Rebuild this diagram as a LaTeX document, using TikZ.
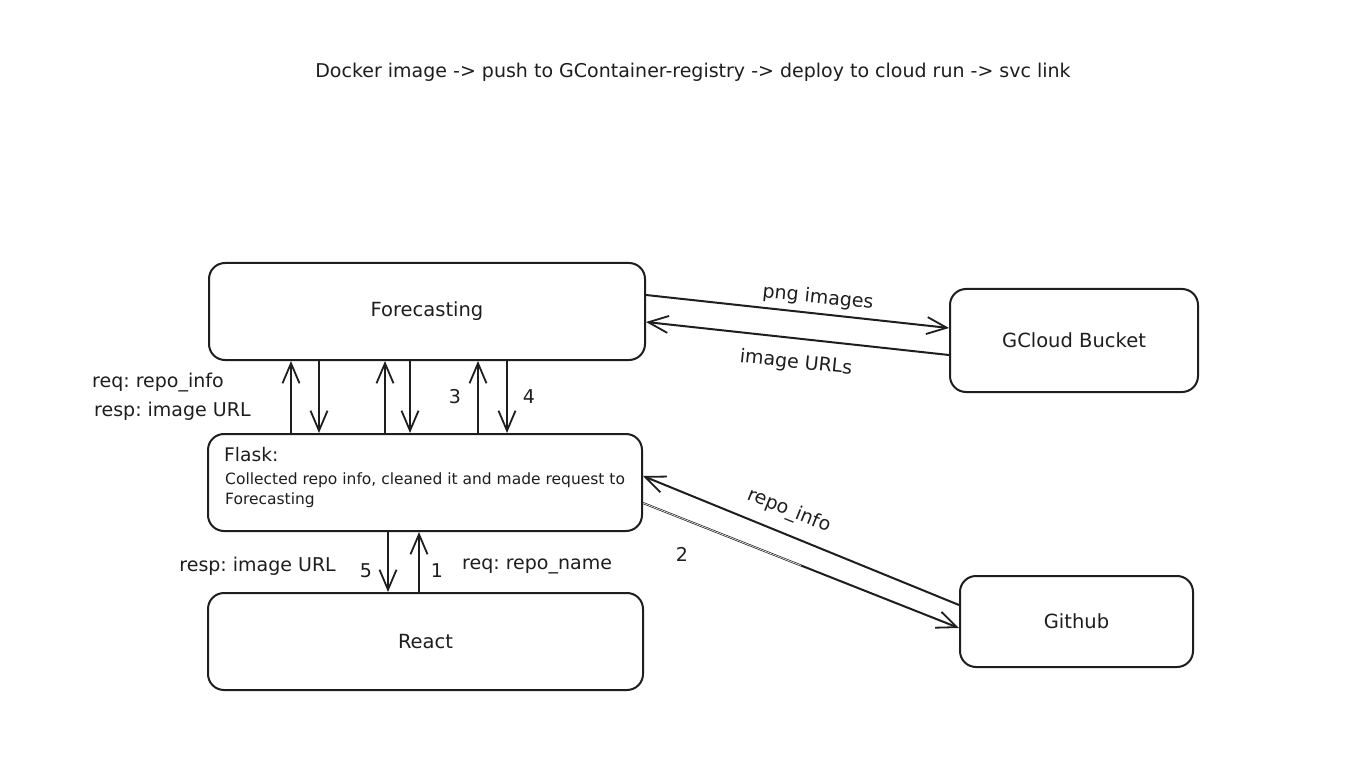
\documentclass[tikz,border=0pt]{standalone}
\usepackage{fontspec}
\setmainfont{DejaVu Sans}
\usetikzlibrary{arrows.meta,calc}
\definecolor{ink}{HTML}{1E1E1E}
\begin{document}
\frenchspacing
\begin{tikzpicture}[x=1pt,y=-1pt,
  box/.style={draw=ink, line width=2pt, rounded corners=16pt, minimum height=97pt, inner sep=0pt,
              font=\fontsize{19.5}{22}\selectfont, text=ink},
  arr/.style={draw=ink, line width=2pt, -{Straight Barb[length=20pt,width=17pt,line width=1.8pt]}},
  lbl/.style={font=\fontsize{19}{22}\selectfont, text=ink, inner sep=1pt},
  num/.style={font=\fontsize{19}{22}\selectfont, text=ink, inner sep=1pt}]
\useasboundingbox[fill=white] (0,0) rectangle (1370,775);

\node[lbl] (title) at (693,72) {Docker image -> push to GContainer-registry -> deploy to cloud run -> svc link};

\node[box, minimum width=436pt] (fore) at (427,311.5) {Forecasting};
\node[box, minimum width=248pt, minimum height=103pt] (gc) at (1074,340.5) {GCloud Bucket};
\node[box, minimum width=434pt] (flask) at (425,482.5) {};
\node[box, minimum width=435pt] (react) at (425.5,641.5) {React};
\node[box, minimum width=233pt, minimum height=91pt] (gh) at (1076.5,621.5) {Github};

\node[anchor=west, inner sep=0pt, font=\fontsize{18.7}{22}\selectfont, text=ink] (flt) at (224,455) {Flask:};
\node[anchor=north west, inner sep=0pt, align=left, font=\fontsize{15.5}{20}\selectfont, text=ink] (fld) at (225,473)
  {Collected repo info, cleaned it and made request to\\Forecasting};

% Forecasting <-> GCloud
\draw[arr] (fore.east |- 0,295) -- (gc.west |- 0,328);
\draw[arr] (gc.west |- 0,355) -- (fore.east |- 0,322);
\node[lbl, rotate=-6] (pngl) at (818,298) {png images};
\node[lbl, rotate=-6] (urll) at (796,363) {image URLs};

% Forecasting <-> Flask
\coordinate (u1) at (291,0); \coordinate (d1) at (319,0);
\coordinate (u2) at (385,0); \coordinate (d2) at (410,0);
\coordinate (u3) at (478,0); \coordinate (d3) at (507,0);
\draw[arr] (flask.north -| u1) -- (fore.south -| u1);
\draw[arr] (fore.south -| d1) -- (flask.north -| d1);
\draw[arr] (flask.north -| u2) -- (fore.south -| u2);
\draw[arr] (fore.south -| d2) -- (flask.north -| d2);
\draw[arr] (flask.north -| u3) -- (fore.south -| u3);
\draw[arr] (fore.south -| d3) -- (flask.north -| d3);
\node[lbl, anchor=west] (rq1) at (91,383) {req: repo\_info};
\node[lbl, anchor=west] (rs1) at (93,411) {resp: image URL};
\node[num] (n3) at (455,397) {3};
\node[num] (n4) at (529,397) {4};

% Flask <-> React
\coordinate (d5) at (388,0); \coordinate (u1r) at (419,0);
\draw[arr] (flask.south -| d5) -- (react.north -| d5);
\draw[arr] (react.north -| u1r) -- (flask.south -| u1r);
\node[lbl, anchor=east] (rs2) at (337,566) {resp: image URL};
\node[lbl, anchor=west] (rq2) at (461,566) {req: repo\_name};
\node[num] (n5) at (366,571) {5};
\node[num] (n1) at (437,571) {1};

% Flask <-> Github
\draw[arr] (gh.west |- 0,605) -- (flask.east |- 0,476);
\draw[arr] (flask.east |- 0,503) -- (gh.west |- 0,628);
\draw[white, line width=0.6pt] (flask.east |- 0,503) -- ($(flask.east |- 0,503)!0.5!(gh.west |- 0,628)$);
\node[lbl, rotate=-22] (ril) at (789,511) {repo\_info};
\node[num] (n2) at (682,554) {2};
\end{tikzpicture}
\end{document}
